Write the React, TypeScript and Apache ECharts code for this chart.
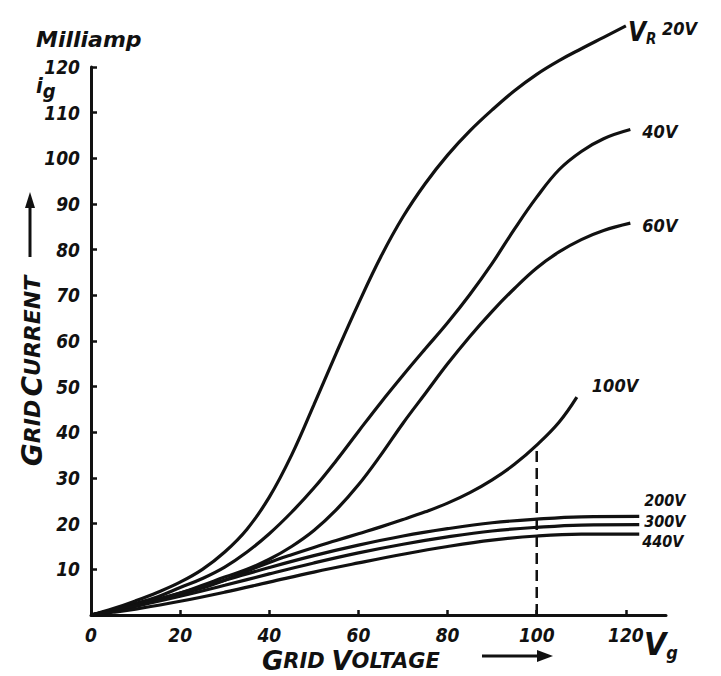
import React, { useEffect, useRef } from 'react';
import * as echarts from 'echarts';

// ---- Data (grid voltage Vg in volts, grid current ig in mA) ----
const xTickValues = [0, 20, 40, 60, 80, 100, 120];
const yTickValues = [0, 10, 20, 30, 40, 50, 60, 70, 80, 90, 100, 110, 120];
const yLabelValues = [10, 20, 30, 40, 50, 60, 70, 80, 90, 100, 110, 120];

const curve20V: [number, number][] = [
  [0, 0], [5, 1.4], [10, 3.1], [15, 5], [20, 7.2], [25, 10], [30, 13.8], [35, 18.8],
  [40, 25.8], [45, 35], [50, 46], [55, 57.3], [60, 68.2], [65, 78.4], [70, 87.2], [75, 94.5],
  [80, 100.7], [85, 106], [90, 110.6], [95, 114.8], [100, 118.4], [105, 121.4], [110, 124],
  [115, 126.5], [120, 129],
];
const curve40V: [number, number][] = [
  [0, 0], [5, 1.1], [10, 2.5], [15, 4], [20, 6], [25, 8], [30, 10.5], [35, 13.8],
  [40, 17.8], [45, 22.5], [50, 27.8], [55, 33.8], [60, 40.2], [65, 46.5], [70, 52.5],
  [75, 58.3], [80, 64], [85, 70.2], [90, 77], [95, 84.5], [100, 91.5], [105, 97.5],
  [110, 101.5], [115, 104.3], [121, 106.3],
];
const curve60V: [number, number][] = [
  [0, 0], [5, 0.9], [10, 2], [15, 3.3], [20, 4.8], [25, 6.5], [30, 8.3], [35, 10],
  [40, 12.2], [45, 15], [50, 18.5], [55, 23], [60, 28.5], [65, 35], [70, 42], [75, 48.5],
  [80, 55], [85, 61], [90, 66.5], [95, 71.5], [100, 76], [105, 79.5], [110, 82.2],
  [115, 84.2], [121, 85.8],
];
const curve100V: [number, number][] = [
  [0, 0], [5, 1], [10, 2.1], [15, 3.3], [20, 4.6], [25, 5.9], [30, 7.6], [35, 9.6],
  [40, 11.5], [45, 13.2], [50, 14.8], [55, 16.3], [60, 17.8], [65, 19.3], [70, 20.9],
  [75, 22.6], [80, 24.5], [85, 26.8], [90, 29.6], [95, 33], [100, 37.2], [105, 42.2],
  [109, 47.7],
];
const curve200V: [number, number][] = [
  [0, 0], [5, 1.1], [10, 2.2], [20, 4.8], [30, 7.6], [40, 10.4], [50, 13], [60, 15.3],
  [70, 17.3], [80, 18.9], [90, 20.2], [100, 21], [110, 21.5], [123, 21.6],
];
const curve300V: [number, number][] = [
  [0, 0], [5, 0.9], [10, 1.9], [20, 4.1], [30, 6.5], [40, 9], [50, 11.4], [60, 13.6],
  [70, 15.5], [80, 17.1], [90, 18.4], [100, 19.2], [110, 19.7], [123, 19.8],
];
const curve440V: [number, number][] = [
  [0, 0], [5, 0.6], [10, 1.3], [20, 3], [30, 5], [40, 7.2], [50, 9.4], [60, 11.4],
  [70, 13.3], [80, 15], [90, 16.4], [100, 17.3], [110, 17.7], [123, 17.7],
];
const dropLine: [number, number][] = [[100, 0], [100, 37.2]];

const FONT = "'DejaVu Sans Condensed', 'Liberation Sans Narrow', 'DejaVu Sans', sans-serif";
const WIDE = "'DejaVu Sans', 'Liberation Sans', sans-serif";
const INK = '#111111';

export default function App() {
  const ref = useRef<HTMLDivElement>(null);

  useEffect(() => {
    if (!ref.current) return;
    const chart = echarts.init(ref.current, null, { renderer: 'svg' });

    const txt = { fontFamily: FONT, fontStyle: 'italic' as const, fontWeight: 'bold' as const, color: INK };

    const lineSeries = (name: string, data: [number, number][], label: any) => ({
      name,
      type: 'line',
      data,
      smooth: 0.4,
      showSymbol: false,
      symbol: 'none',
      clip: false,
      silent: true,
      lineStyle: { color: INK, width: 3.2 },
      endLabel: { show: true, ...txt, fontSize: 18, ...label },
      z: 3,
    });

    const option: any = {
      animation: false,
      backgroundColor: '#ffffff',
      grid: { left: 91, right: 55, top: 67, bottom: 61, containLabel: false },
      xAxis: {
        type: 'value',
        min: 0,
        max: 129,
        interval: 20,
        splitLine: { show: false },
        axisLine: { show: true, onZero: false, lineStyle: { color: INK, width: 3 } },
        axisTick: { show: true, inside: true, length: 5, lineStyle: { color: INK, width: 2.5 }, customValues: xTickValues },
        axisLabel: { ...txt, fontSize: 19, margin: 10, customValues: xTickValues },
      },
      yAxis: {
        type: 'value',
        min: 0,
        max: 120,
        interval: 10,
        splitLine: { show: false },
        axisLine: { show: true, onZero: false, lineStyle: { color: INK, width: 3 } },
        axisTick: { show: true, inside: true, length: 6, lineStyle: { color: INK, width: 2.5 }, customValues: yTickValues },
        axisLabel: { ...txt, fontSize: 19, margin: 11, customValues: yLabelValues },
      },
      series: [
        lineSeries('20V', curve20V, {
          formatter: '{v|V}{r|R} {t|20V}',
          distance: 2,
          offset: [0, 6],
          rich: {
            v: { ...txt, fontSize: 26 },
            r: { ...txt, fontSize: 15, padding: [14, 0, 0, 0] },
            t: { ...txt, fontSize: 18, padding: [0, 0, 6, 0] },
          },
        }),
        lineSeries('40V', curve40V, { formatter: '40V', distance: 12, offset: [0, 2] }),
        lineSeries('60V', curve60V, { formatter: '60V', distance: 12, offset: [0, 2] }),
        lineSeries('100V', curve100V, { formatter: '100V', distance: 15, offset: [0, -12] }),
        lineSeries('200V', curve200V, { formatter: '200V', distance: 5, offset: [0, -16], fontSize: 16, lineHeight: 16 }),
        lineSeries('300V', curve300V, { formatter: '300V', distance: 5, offset: [0, -3], fontSize: 16, lineHeight: 16 }),
        lineSeries('440V', curve440V, { formatter: '440V', distance: 3, offset: [0, 7], fontSize: 16, lineHeight: 16 }),
        {
          name: 'drop',
          type: 'line',
          data: dropLine,
          showSymbol: false,
          symbol: 'none',
          silent: true,
          lineStyle: { color: INK, width: 2.5, type: [11, 6] },
          z: 2,
        },
      ],
      graphic: [
        { type: 'text', left: 36, top: 28, style: { text: 'Milliamp', font: `italic bold 22px ${WIDE}`, fill: INK } },
        {
          type: 'text', left: 36, top: 74,
          style: {
            text: '{i|i}{g|g}',
            rich: {
              i: { font: `italic bold 22px ${FONT}`, fill: INK },
              g: { font: `italic bold 20px ${FONT}`, fill: INK, padding: [12, 0, 0, 0] },
            },
            fill: INK,
          },
        },
        {
          type: 'text', x: 32, y: 371, rotation: Math.PI / 2,
          style: {
            text: '{b|G}{s|RID} {b|C}{s|URRENT}',
            align: 'center', verticalAlign: 'middle',
            rich: {
              b: { font: `italic bold 28px ${WIDE}`, fill: INK },
              s: { font: `italic bold 22px ${WIDE}`, fill: INK },
            },
            fill: INK,
          },
        },
        { type: 'line', shape: { x1: 30, y1: 257, x2: 30, y2: 205 }, style: { stroke: INK, lineWidth: 3 } },
        { type: 'polygon', shape: { points: [[25, 208], [35, 208], [30, 192]] }, style: { fill: INK } },
        {
          type: 'text', x: 262, y: 661,
          style: {
            text: '{b|G}{s|RID}  {b|V}{s|OLTAGE}',
            align: 'left', verticalAlign: 'middle',
            rich: {
              b: { font: `italic bold 26px ${WIDE}`, fill: INK },
              s: { font: `italic bold 21px ${WIDE}`, fill: INK },
            },
            fill: INK,
          },
        },
        { type: 'line', shape: { x1: 482, y1: 656, x2: 540, y2: 656 }, style: { stroke: INK, lineWidth: 3 } },
        { type: 'polygon', shape: { points: [[537, 650], [537, 662], [553, 656]] }, style: { fill: INK } },
        {
          type: 'text', left: 644, top: 628,
          style: {
            text: '{v|V}{g|g}',
            rich: {
              v: { font: `italic bold 32px ${FONT}`, fill: INK },
              g: { font: `italic bold 18px ${FONT}`, fill: INK, padding: [16, 0, 0, 0] },
            },
            fill: INK,
          },
        },
      ],
    };

    chart.setOption(option);
    return () => chart.dispose();
  }, []);

  return (
    <div
      ref={ref}
      style={{ position: 'fixed', left: 0, top: 0, width: 721, height: 676, background: '#fff' }}
    />
  );
}
